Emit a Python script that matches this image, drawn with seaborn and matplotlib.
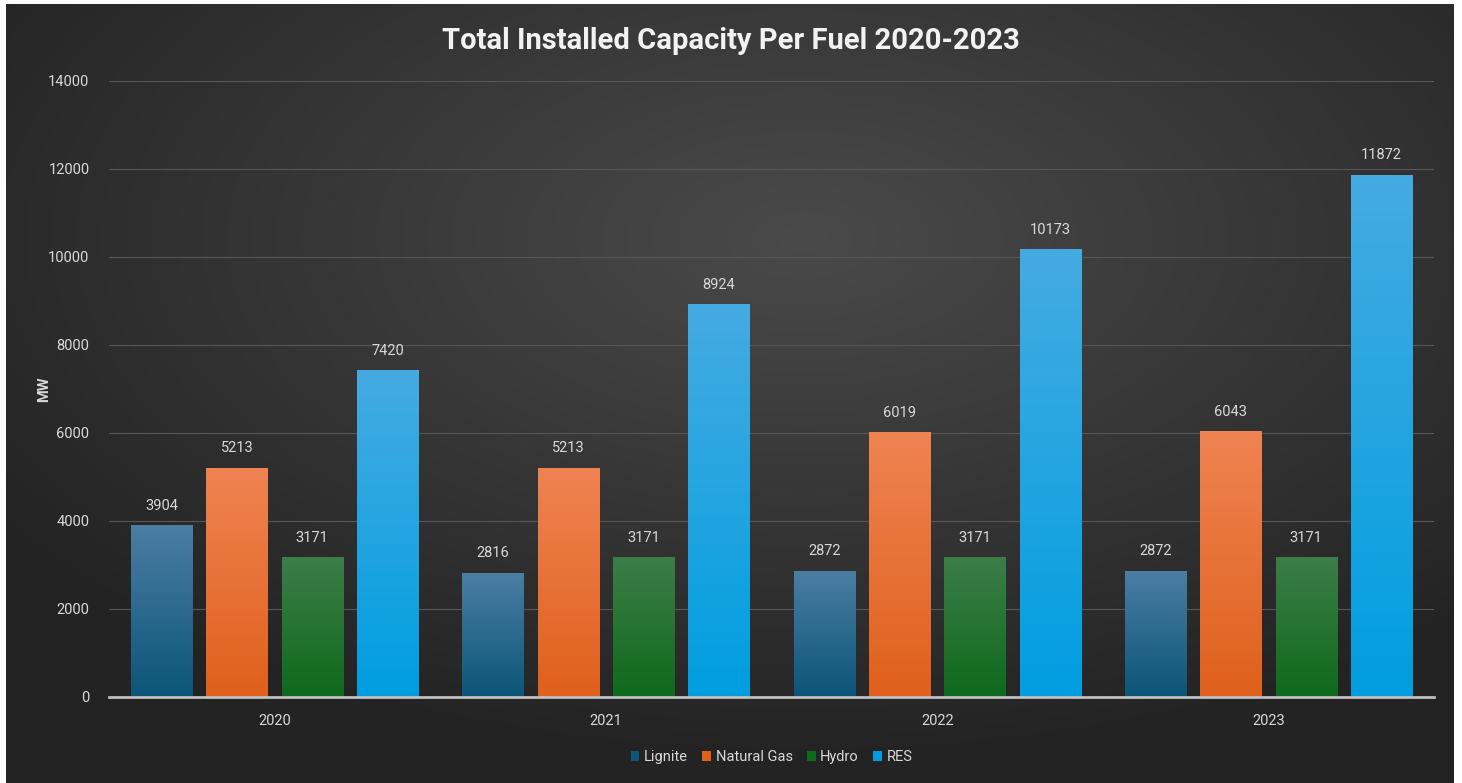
import numpy as np
import pandas as pd
import matplotlib.pyplot as plt
import matplotlib.colors as mcolors
import seaborn as sns

# 数据
years = ["2020", "2021", "2022", "2023"]
fuels = ["Lignite", "Natural Gas", "Hydro", "RES"]
lignite = [3904, 2816, 2872, 2872]
natural_gas = [5213, 5213, 6019, 6043]
hydro = [3171, 3171, 3171, 3171]
res = [7420, 8924, 10173, 11872]

df = pd.DataFrame({
    "year": years * 4,
    "fuel": [f for f in fuels for _ in years],
    "MW": lignite + natural_gas + hydro + res,
})

# 渐变颜色 (顶部, 底部)
grad = {
    "Lignite": ("#4b7ea3", "#0b5578"),
    "Natural Gas": ("#ef8352", "#e0601c"),
    "Hydro": ("#3d7d48", "#0e6a1c"),
    "RES": ("#45abe2", "#009ee0"),
}
palette = {k: v[1] for k, v in grad.items()}

sns.set_theme(style="dark")
plt.rcParams["font.family"] = ["Roboto", "DejaVu Sans"]
text_col = "#d9d9d9"

fig = plt.figure(figsize=(14.62, 7.83), dpi=100, facecolor="white")

# 背景径向渐变 (四周留白边)
W, H = 1462, 783
bg = fig.add_axes([6 / W, 0, (1454 - 6) / W, (H - 4) / H], zorder=-10)
yy, xx = np.mgrid[0:1:300j, 0:1:560j]
r = np.sqrt(((xx - 0.55) / 0.9) ** 2 + ((yy - 0.3) / 0.9) ** 2)
r = np.clip(r / 0.75, 0, 1)
c0 = np.array(mcolors.to_rgb("#4a4a4a"))
c1 = np.array(mcolors.to_rgb("#232323"))
img = c0[None, None, :] * (1 - r[..., None]) + c1[None, None, :] * r[..., None]
bg.imshow(img, extent=[0, 1, 0, 1], aspect="auto", origin="upper")
bg.axis("off")

ax = fig.add_axes([0.0745, 0.110, 0.9065, 0.7866])
ax.patch.set_alpha(0)
sns.barplot(data=df, x="year", y="MW", hue="fuel", hue_order=fuels,
            palette=palette, width=0.91, gap=0.19, saturation=1,
            ax=ax, legend=True)

# 柱子渐变
ramp = np.linspace(0, 1, 256)[:, None]
for cont, fuel in zip(ax.containers, fuels):
    top, bot = grad[fuel]
    cmap = mcolors.LinearSegmentedColormap.from_list(fuel, [top, bot])
    for bar in cont:
        x0, y0 = bar.get_x(), bar.get_y()
        w, h = bar.get_width(), bar.get_height()
        im = ax.imshow(ramp, cmap=cmap, aspect="auto",
                       extent=[x0, x0 + w, y0, y0 + h], origin="upper", zorder=2)
        im.set_clip_path(bar)
        bar.set_edgecolor("none")
    ax.bar_label(cont, padding=9, color=text_col, fontsize=10.5)

ax.set_xlim(-0.5, 3.5)
ax.set_ylim(0, 14000)
ax.set_yticks(range(0, 14001, 2000))
ax.grid(axis="y", color="#575757", linewidth=0.8)
ax.set_axisbelow(True)
for s in ["top", "right", "left"]:
    ax.spines[s].set_visible(False)
ax.spines["bottom"].set_color("#bfbfbf")
ax.spines["bottom"].set_linewidth(2)
ax.tick_params(colors=text_col, labelsize=10.5, length=0)
ax.tick_params(axis="x", pad=12)
ax.tick_params(axis="y", pad=14)
ax.set_xlabel("")
ax.set_ylabel("MW", color=text_col, fontsize=10.5, fontweight="bold", labelpad=-2)

fig.suptitle("Total Installed Capacity Per Fuel 2020-2023", y=0.966,
             color="#f2f2f2", fontsize=21, fontweight="bold")

handles, labels = ax.get_legend_handles_labels()
for hd in handles:
    hd.set_edgecolor("none")
ax.legend(handles, labels, loc="upper center", bbox_to_anchor=(0.5, -0.065),
          ncol=4, frameon=False, labelcolor=text_col, fontsize=10.5,
          handlelength=0.6, handleheight=0.6, handletextpad=0.3, columnspacing=1.0)

fig.savefig("out.png", dpi=100, facecolor="white")
